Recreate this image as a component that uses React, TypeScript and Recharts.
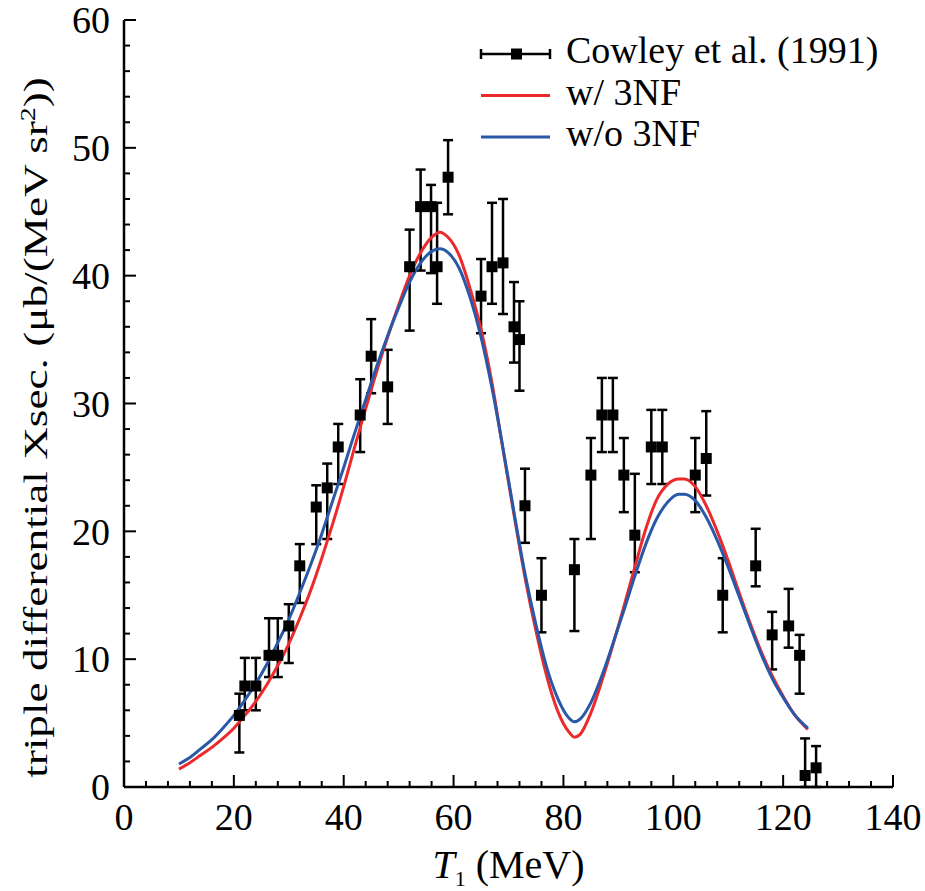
import React from 'react';
import { ComposedChart, Line, Scatter, ErrorBar, XAxis, YAxis, Legend, Label } from 'recharts';

const FONT = "'Liberation Serif', 'DejaVu Serif', serif";
const TXT = { fontFamily: FONT, fontSize: 38, fill: '#000' };

const NAME_EXP = 'Cowley et al. (1991)';
const NAME_3NF = 'w/ 3NF';
const NAME_NO3NF = 'w/o 3NF';

// Cowley et al. (1991) data points
const expT1 = [21, 22, 24, 26.4, 28, 30, 32, 35, 37, 39, 43, 45, 48, 52, 54, 55.9, 57, 59, 65, 67, 69, 71, 72, 73, 76, 82, 85, 87, 89, 91, 93, 96, 98, 104, 106, 109, 115, 118, 121, 123, 124, 126];
const expXsec = [5.6, 7.9, 7.9, 10.3, 10.3, 12.6, 17.3, 21.9, 23.4, 26.6, 29.1, 33.7, 31.3, 40.7, 45.4, 45.4, 40.7, 47.7, 38.4, 40.7, 41.0, 36.0, 35.0, 22.0, 15.0, 17.0, 24.4, 29.1, 29.1, 24.4, 19.7, 26.6, 26.6, 24.4, 25.7, 15.0, 17.3, 11.9, 12.6, 10.3, 0.9, 1.5];
const expErrUp = [1.7, 2.2, 2.2, 2.9, 2.9, 1.7, 1.7, 1.7, 1.9, 1.8, 2.8, 2.9, 2.9, 2.9, 2.9, 1.7, 5.0, 2.9, 2.9, 5.0, 5.0, 3.5, 3.0, 2.9, 2.9, 2.4, 2.9, 2.9, 2.9, 2.9, 4.8, 2.9, 2.9, 2.9, 3.7, 2.9, 2.9, 1.8, 2.9, 1.6, 2.9, 1.7];
const expErrDown = [2.9, 1.9, 1.9, 1.7, 1.7, 2.9, 2.9, 2.9, 4.0, 2.9, 2.9, 2.9, 2.9, 5.0, 5.0, 5.2, 2.9, 2.9, 2.9, 2.9, 4.0, 2.8, 4.0, 2.9, 2.9, 4.8, 5.0, 2.9, 2.9, 2.9, 2.9, 2.9, 2.9, 2.9, 2.9, 2.9, 1.6, 2.7, 1.7, 3.0, 0.9, 1.5];

// Faddeev calculations
const curveT1 = [10, 12, 14, 16, 18, 20, 22, 24, 26, 28, 30, 32, 34, 36, 38, 40, 42, 44, 46, 48, 50, 52, 54, 56, 57.5, 59, 61, 63, 65, 67, 69, 71, 73, 75, 77, 79, 81, 82, 83, 85, 87, 89, 91, 93, 95, 97, 99, 101, 102, 104, 106, 108, 110, 112, 114, 116, 118, 120, 122, 124.5];
const with3NF = [1.4, 1.9, 2.5, 3.1, 3.8, 4.6, 5.6, 6.7, 8.0, 9.5, 11.2, 13.2, 15.4, 17.9, 20.6, 23.5, 26.6, 29.6, 32.5, 35.2, 37.7, 40.0, 41.8, 43.0, 43.4, 43.0, 41.6, 39.0, 35.8, 31.6, 26.4, 21.3, 16.4, 12.2, 8.6, 5.9, 4.3, 3.9, 4.1, 5.8, 8.3, 11.1, 14.1, 17.2, 20.2, 22.5, 23.7, 24.1, 24.1, 23.5, 22.0, 20.0, 17.7, 15.2, 12.8, 10.6, 8.7, 7.1, 5.7, 4.5];
const without3NF = [1.8, 2.3, 3.0, 3.7, 4.6, 5.6, 6.8, 8.1, 9.6, 11.3, 13.1, 15.2, 17.4, 19.8, 22.4, 25.0, 27.7, 30.3, 32.9, 35.3, 37.5, 39.5, 41.0, 41.9, 42.1, 41.8, 40.6, 38.3, 35.2, 31.2, 26.5, 21.5, 16.7, 12.7, 9.3, 6.9, 5.4, 5.1, 5.3, 6.6, 8.7, 11.2, 13.8, 16.5, 19.0, 21.0, 22.3, 22.9, 22.9, 22.4, 21.1, 19.3, 17.2, 14.9, 12.6, 10.4, 8.5, 7.0, 5.7, 4.6];

const xTicks = [0, 4, 8, 12, 16, 20, 24, 28, 32, 36, 40, 44, 48, 52, 56, 60, 64, 68, 72, 76, 80, 84, 88, 92, 96, 100, 104, 108, 112, 116, 120, 124, 128, 132, 136, 140];
const yTicks = [0, 2, 4, 6, 8, 10, 12, 14, 16, 18, 20, 22, 24, 26, 28, 30, 32, 34, 36, 38, 40, 42, 44, 46, 48, 50, 52, 54, 56, 58, 60];

const RED = '#ec2a2c';
const BLUE = '#2a58a8';

const expData = expT1.map((x, i) => ({ x, y: expXsec[i], err: [expErrDown[i], expErrUp[i]] }));
const redData = curveT1.map((x, i) => ({ x, y: with3NF[i] }));
const blueData = curveT1.map((x, i) => ({ x, y: without3NF[i] }));

const XTick = (props: any) => {
    const { x, y, payload } = props;
    const v = payload.value;
    const major = v % 20 === 0;
    return (
        <g>
            <line x1={x} x2={x} y1={y} y2={y - (major ? 12 : 6)} stroke="#000" strokeWidth={2} />
            {major && (
                <text x={x} y={y + 43} textAnchor="middle" style={TXT}>{v}</text>
            )}
        </g>
    );
};

const YTick = (props: any) => {
    const { x, y, payload } = props;
    const v = payload.value;
    const major = v % 10 === 0;
    return (
        <g>
            <line x1={x} x2={x + (major ? 12 : 6)} y1={y} y2={y} stroke="#000" strokeWidth={2} />
            {major && (
                <text x={x - 14} y={y} dy="0.35em" textAnchor="end" style={TXT}>{v}</text>
            )}
        </g>
    );
};

// rotated title, stretched along its length like the original figure
const YTitle = (props: any) => {
    const { viewBox } = props;
    const cy = viewBox.y + viewBox.height / 2 + 24;
    return (
        <text transform={`translate(47 ${cy}) rotate(-90) scale(1.33 1)`} textAnchor="middle"
            style={{ ...TXT, fontSize: 34 }}>
            triple differential Xsec. (μb/(MeV sr<tspan dy={-12} style={{ fontSize: 21 }}>2</tspan><tspan dy={12}>))</tspan>
        </text>
    );
};

const XTitle = (props: any) => {
    const { viewBox } = props;
    const cx = viewBox.x + viewBox.width / 2;
    return (
        <text x={cx} y={viewBox.y + 91} textAnchor="middle" style={{ ...TXT, fontSize: 40 }}>
            <tspan style={{ fontStyle: 'italic' }}>T</tspan>
            <tspan dy={8} style={{ fontSize: 22 }}>1</tspan>
            <tspan dy={-8}> (MeV)</tspan>
        </text>
    );
};

const Square = (props: any) => (
    <rect x={props.cx - 5.5} y={props.cy - 5.5} width={11} height={11} fill="#000" />
);

const renderLegend = (props: any) => {
    const items = props.payload || [];
    return (
        <svg width={440} height={150} style={{ display: 'block' }}>
            {items.map((entry: any, i: number) => {
                const yc = 34 + i * 41.5;
                const isExp = entry.value === NAME_EXP;
                const color = entry.value === NAME_3NF ? RED : entry.value === NAME_NO3NF ? BLUE : '#000';
                return (
                    <g key={entry.value}>
                        <line x1={21} x2={90} y1={yc} y2={yc} stroke={color} strokeWidth={isExp ? 2.5 : 3} />
                        {isExp && (
                            <g>
                                <line x1={21} x2={21} y1={yc - 5} y2={yc + 5} stroke="#000" strokeWidth={2.5} />
                                <line x1={90} x2={90} y1={yc - 5} y2={yc + 5} stroke="#000" strokeWidth={2.5} />
                                <rect x={51} y={yc - 5.5} width={11} height={11} fill="#000" />
                            </g>
                        )}
                        <text x={106} y={yc + 9} style={TXT}>{entry.value}</text>
                    </g>
                );
            })}
        </svg>
    );
};

export default function App() {
    const frame = { stroke: '#000', strokeWidth: 2.5 };
    return (
        <div style={{ position: 'absolute', left: 0, top: 0, width: 925, height: 891, background: '#fff', fontFamily: FONT }}>
            <ComposedChart width={925} height={891} margin={{ top: 20, right: 32, left: 0, bottom: 0 }}>
                <XAxis dataKey="x" type="number" domain={[0, 140]} ticks={xTicks} interval={0}
                    height={104} tickSize={0} tickMargin={0} tickLine={false} axisLine={frame} tick={<XTick />}>
                    <Label content={<XTitle />} />
                </XAxis>
                <YAxis dataKey="y" type="number" domain={[0, 60]} ticks={yTicks} interval={0}
                    width={124} tickSize={0} tickMargin={0} tickLine={false} axisLine={frame} tick={<YTick />}>
                    <Label content={<YTitle />} />
                </YAxis>
                <XAxis xAxisId="top" orientation="top" type="number" domain={[0, 140]} height={0}
                    tick={false} tickLine={false} axisLine={frame} />
                <YAxis yAxisId="right" orientation="right" type="number" domain={[0, 60]} width={0}
                    tick={false} tickLine={false} axisLine={frame} />
                <Legend layout="vertical" align="center" verticalAlign="middle" content={renderLegend}
                    wrapperStyle={{ left: 460, top: 20, width: 440, height: 150 }} />
                <Scatter name={NAME_EXP} data={expData} dataKey="y" fill="#000" shape={<Square />} isAnimationActive={false}>
                    <ErrorBar dataKey="err" direction="y" width={5} stroke="#000" strokeWidth={2.5} isAnimationActive={false} />
                </Scatter>
                <Line name={NAME_3NF} data={redData} dataKey="y" type="monotone" stroke={RED} strokeWidth={3}
                    dot={false} activeDot={false} isAnimationActive={false} />
                <Line name={NAME_NO3NF} data={blueData} dataKey="y" type="monotone" stroke={BLUE} strokeWidth={3}
                    dot={false} activeDot={false} isAnimationActive={false} />
            </ComposedChart>
        </div>
    );
}
